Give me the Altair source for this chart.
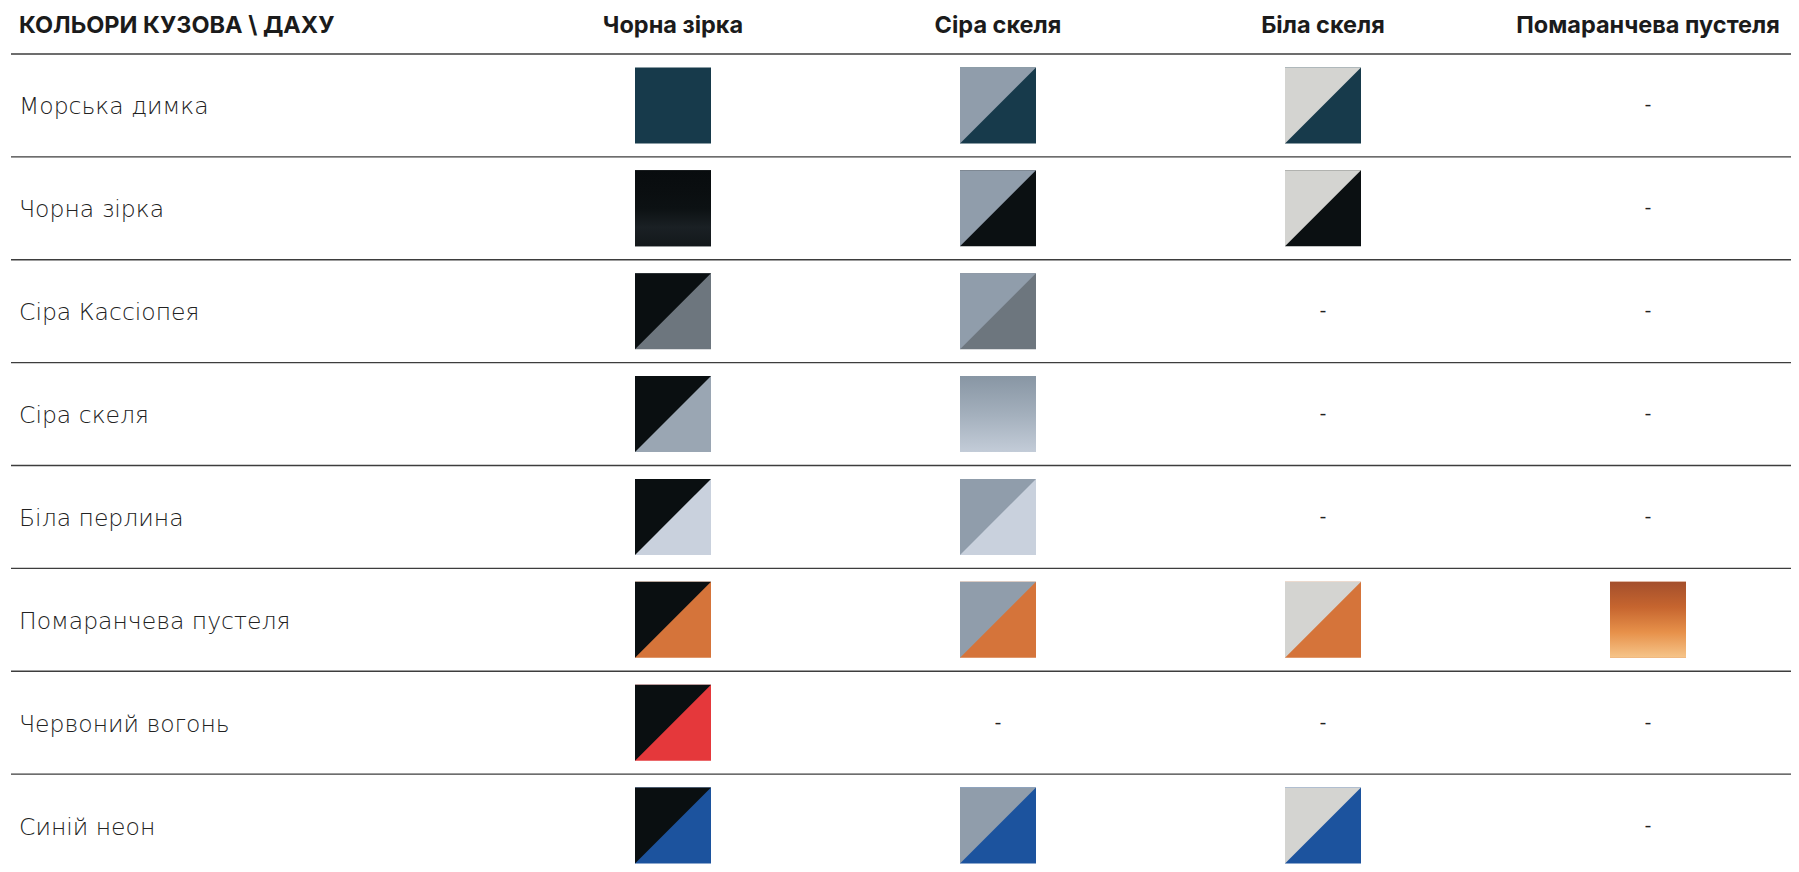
import altair as alt
import pandas as pd

# ---- data ----
row_names = ["Морська димка", "Чорна зірка", "Сіра Кассіопея", "Сіра скеля",
             "Біла перлина", "Помаранчева пустеля", "Червоний вогонь", "Синій неон"]
body_colors = ["#173a4b", "#0b1012", "#6d767e", "#9aa6b3",
               "#c9d1dd", "#d5743a", "#e5383b", "#1c539e"]
col_names = ["Чорна зірка", "Сіра скеля", "Біла скеля", "Помаранчева пустеля"]
roof_colors = ["#0a0f11", "#909dab", "#d4d4d1", "#b85f30"]
corner_title = "КОЛЬОРИ КУЗОВА \\ ДАХУ"
# S = two-tone (roof / body), F = single colour, - = not available
cells = [
    ["F", "S", "S", "-"],
    ["F", "S", "S", "-"],
    ["S", "S", "-", "-"],
    ["S", "F", "-", "-"],
    ["S", "S", "-", "-"],
    ["S", "S", "S", "F"],
    ["S", "-", "-", "-"],
    ["S", "S", "S", "-"],
]
grey_stops = ["#8896a4", "#a3afbc", "#c3ccd8"]
orange_stops = ["#a44f2c", "#c6652f", "#e7914a", "#f6c58a"]
black_stops = ["#080c0e", "#0a0e10", "#0c1113", "#1a2024", "#13181b"]

records = []
for r, rn in enumerate(row_names):
    for c, cn in enumerate(col_names):
        records.append({"row": rn, "col": cn, "state": cells[r][c],
                        "body": body_colors[r], "roof": roof_colors[c],
                        "key": f"{r}-{c}", "dash": "-"})
df = pd.DataFrame(records)
rows_df = pd.DataFrame({"row": row_names})
cols_df = pd.DataFrame({"col": col_names})

W, H = 1783, 864
SIDE = 76

xscale = alt.Scale(type="point", domain=col_names, range=[665, 1640], padding=0)
yscale = alt.Scale(type="band", domain=row_names, range=[46, 869], paddingInner=0, paddingOuter=0)
X = alt.X("col:N", scale=xscale, axis=None)
Y = alt.Y("row:N", scale=yscale, axis=None)

base = alt.Chart(df)

lines = alt.Chart(rows_df).mark_rule(color="#3d3d3d", strokeWidth=1.4).encode(
    y=alt.Y("row:N", scale=yscale, axis=None, bandPosition=0),
    x=alt.value(3), x2=alt.value(W),
)

squares = base.transform_filter("datum.state != '-'").mark_square(
    size=SIDE * SIDE, opacity=1, strokeWidth=0
).encode(x=X, y=Y, color=alt.Color("body:N", scale=None))

roofs = base.transform_filter("datum.state == 'S'").mark_point(
    shape="M-1,-1L1,-1L-1,1Z", size=SIDE * SIDE, filled=True, opacity=1, strokeWidth=0
).encode(x=X, y=Y, color=alt.Color("roof:N", scale=None))

def grad_square(key, stops):
    n = len(stops)
    g = alt.Gradient(gradient="linear", x1=0, x2=0, y1=0, y2=1,
                     stops=[alt.GradientStop(color=s, offset=i / (n - 1)) for i, s in enumerate(stops)])
    return base.transform_filter(f"datum.key == '{key}'").mark_square(
        size=SIDE * SIDE, opacity=1, strokeWidth=0, color=g
    ).encode(x=X, y=Y)

grey_grad = grad_square("3-1", grey_stops)
orange_grad = grad_square("5-3", orange_stops)
black_grad = grad_square("1-0", black_stops)

dashes = base.transform_filter("datum.state == '-'").mark_text(
    font="Lato", fontSize=20, fontWeight=400, color="#222", baseline="middle"
).encode(x=X, y=Y, text="dash:N")

labels = alt.Chart(rows_df).mark_text(
    font="DejaVu Sans", fontSize=23.5, fontWeight=200, color="#222",
    align="left", baseline="middle", dy=2
).encode(y=Y, x=alt.value(11), text="row:N")

col_heads = alt.Chart(cols_df).mark_text(
    font="Inter", fontSize=23.5, fontWeight=700, color="#1b1b1b", baseline="middle"
).encode(x=X, y=alt.value(18), text="col:N")

corner = alt.Chart(pd.DataFrame({"t": [corner_title]})).mark_text(
    font="Inter", fontSize=23.5, fontWeight=700, color="#1b1b1b", align="left", baseline="middle"
).encode(x=alt.value(11), y=alt.value(18), text="t:N")

chart = alt.layer(
    lines, squares, grey_grad, orange_grad, black_grad, roofs, dashes, labels, col_heads, corner
).properties(
    width=W, height=H, padding=0, autosize=alt.AutoSizeParams(type="none")
).configure_view(stroke=None)

chart.save("out.html", embed_options={"renderer": "svg", "actions": False})
